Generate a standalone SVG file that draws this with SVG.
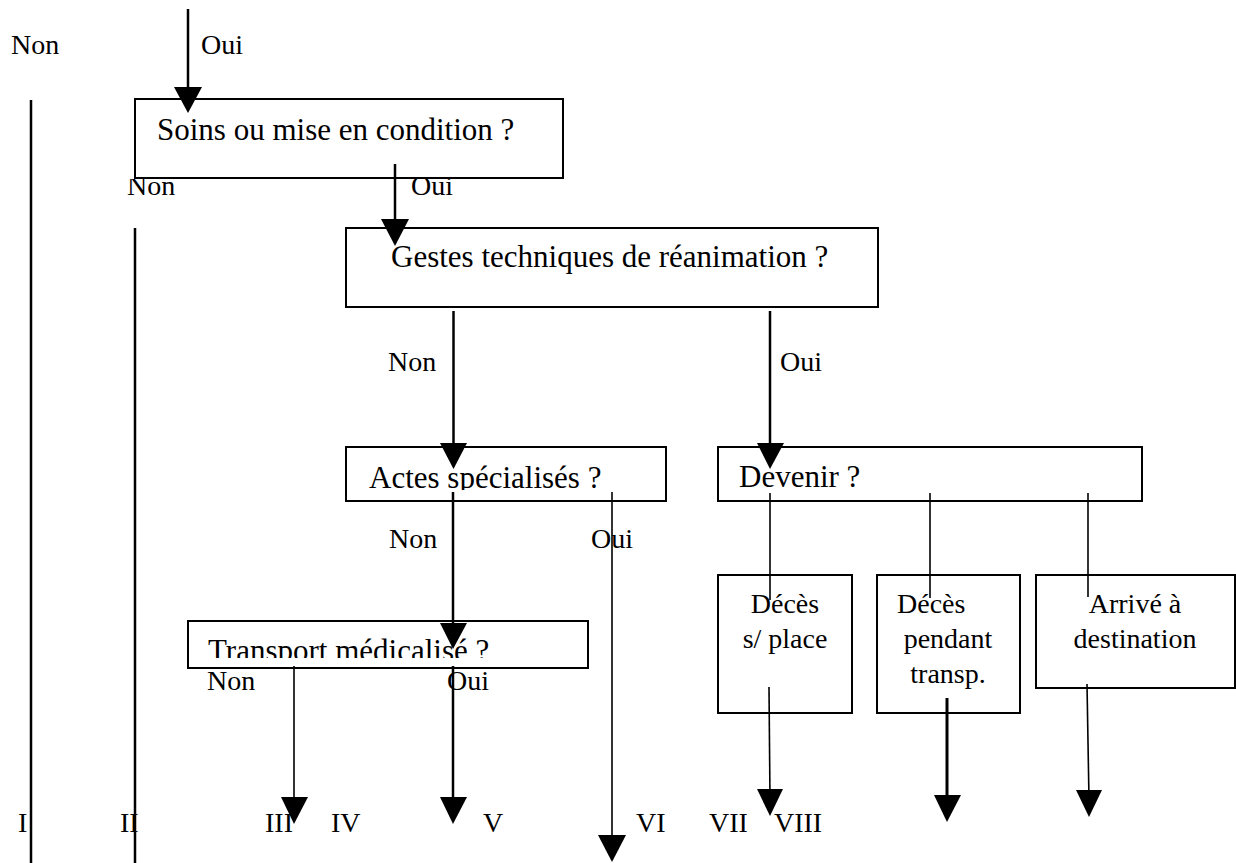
<svg xmlns="http://www.w3.org/2000/svg" width="1236" height="863" viewBox="0 0 1236 863">
<style>
text{font-family:"Liberation Serif","Times New Roman",serif;fill:#000}
.q{font-size:31px}
.l{font-size:28px}
.m{text-anchor:middle}
.box{fill:#fff;stroke:#000;stroke-width:2}
.ln{stroke:#000;fill:none;stroke-width:2.5}
.th{stroke-width:1.6}
.tk{stroke-width:3}
.hd{fill:#000;stroke:none}
</style>
<defs>
<clipPath id="cA"><rect x="340" y="440" width="330" height="50"/></clipPath>
<clipPath id="cT"><rect x="180" y="615" width="410" height="43"/></clipPath>
<clipPath id="cS"><rect x="100" y="179" width="400" height="40"/></clipPath>
</defs>
<rect width="1236" height="863" fill="#fff"/>

<g id="node-soins">
<rect class="box" x="135" y="99" width="428" height="79"/>
<text class="q" x="157" y="140">Soins ou mise en condition ?</text>
</g>
<g id="node-gestes">
<rect class="box" x="346" y="228" width="532" height="79"/>
<text class="q" x="391" y="267">Gestes techniques de réanimation ?</text>
</g>
<g id="node-actes">
<rect class="box" x="346" y="447" width="320" height="54"/>
<text class="q" x="369" y="488" clip-path="url(#cA)">Actes spécialisés ?</text>
</g>
<g id="node-devenir">
<rect class="box" x="718" y="447" width="424" height="54"/>
<text class="q" x="739" y="487">Devenir ?</text>
</g>
<g id="node-transport">
<rect class="box" x="188" y="621" width="400" height="47"/>
<text class="q" x="208" y="661" clip-path="url(#cT)">Transport médicalisé ?</text>
</g>
<g id="node-deces-place">
<rect class="box" x="718" y="575" width="134" height="138"/>
<text class="l m" x="785" y="613">Décès</text>
<text class="l m" x="785" y="648">s/ place</text>
</g>
<g id="node-deces-transp">
<rect class="box" x="877" y="575" width="143" height="138"/>
<text class="l" x="897" y="613">Décès</text>
<text class="l m" x="948" y="648">pendant</text>
<text class="l m" x="948" y="683">transp.</text>
</g>
<g id="node-arrive">
<rect class="box" x="1036" y="575" width="199" height="113"/>
<text class="l m" x="1135" y="613">Arrivé à</text>
<text class="l m" x="1135" y="648">destination</text>
</g>

<g id="connectors">
<line class="ln" x1="188" y1="9" x2="188" y2="100"/>
<polygon class="hd" points="174,87 202,87 188,113"/>
<line class="ln" x1="31" y1="100" x2="31" y2="863"/>
<line class="ln" x1="135" y1="228" x2="135" y2="863"/>
<line class="ln" x1="395" y1="164" x2="395" y2="232"/>
<polygon class="hd" points="381,219 409,219 395,246"/>
<line class="ln" x1="453.5" y1="311" x2="453.5" y2="456"/>
<polygon class="hd" points="440,443 467,443 453.5,469"/>
<line class="ln" x1="770" y1="311" x2="770" y2="456"/>
<polygon class="hd" points="757,443 784,443 770,469"/>
<line class="ln" x1="453" y1="492" x2="453" y2="636"/>
<polygon class="hd" points="440,623 467,623 453,649"/>
<line class="ln th" x1="612" y1="492" x2="612" y2="848"/>
<polygon class="hd" points="598,835 626,835 612,862"/>
<line class="ln th" x1="294" y1="666" x2="294" y2="810"/>
<polygon class="hd" points="281,797 308,797 294,824"/>
<line class="ln" x1="453" y1="666" x2="453" y2="810"/>
<polygon class="hd" points="440,797 467,797 453,824"/>
<line class="ln th" x1="770" y1="493" x2="770" y2="600"/>
<line class="ln th" x1="930" y1="493" x2="930" y2="598"/>
<line class="ln th" x1="1088" y1="493" x2="1088" y2="597"/>
<line class="ln th" x1="769" y1="687" x2="770" y2="800"/>
<polygon class="hd" points="757,789 783,789 770,816"/>
<line class="ln tk" x1="947" y1="698" x2="947" y2="808"/>
<polygon class="hd" points="934,795 961,795 947,822"/>
<line class="ln th" x1="1087" y1="684" x2="1089" y2="800"/>
<polygon class="hd" points="1076,790 1102,790 1089,817"/>
</g>

<g id="labels">
<text class="l" x="11" y="54">Non</text>
<text class="l" x="201" y="54">Oui</text>
<g clip-path="url(#cS)">
<text class="l" x="127" y="195">Non</text>
<text class="l" x="411" y="195">Oui</text>
</g>
<text class="l" x="388" y="371">Non</text>
<text class="l" x="780" y="371">Oui</text>
<text class="l" x="389" y="548">Non</text>
<text class="l" x="591" y="548">Oui</text>
<text class="l" x="207" y="690">Non</text>
<text class="l" x="447" y="690">Oui</text>
<text class="l" x="18" y="832">I</text>
<text class="l" x="120" y="832">II</text>
<text class="l" x="265" y="832">III</text>
<text class="l" x="331" y="832">IV</text>
<text class="l" x="483" y="832">V</text>
<text class="l" x="636" y="832">VI</text>
<text class="l" x="709" y="832">VII</text>
<text class="l" x="774" y="832">VIII</text>
</g>
</svg>
